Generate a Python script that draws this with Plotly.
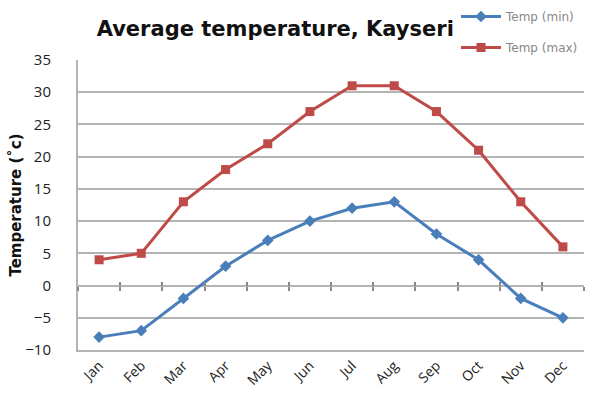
import plotly.graph_objects as go

months = ["Jan", "Feb", "Mar", "Apr", "May", "Jun", "Jul", "Aug", "Sep", "Oct", "Nov", "Dec"]
temp_min = [-8, -7, -2, 3, 7, 10, 12, 13, 8, 4, -2, -5]
temp_max = [4, 5, 13, 18, 22, 27, 31, 31, 27, 21, 13, 6]
y_ticks = [-10, -5, 0, 5, 10, 15, 20, 25, 30, 35]

BLUE = "#4a7ebb"
RED = "#be4b48"
GRID = "#b4b4b4"
y_lo, y_hi = -10, 35

fig = go.Figure()
fig.add_trace(go.Scatter(
    x=months, y=temp_min, name="Temp (min)", mode="lines+markers",
    line=dict(color=BLUE, width=3), marker=dict(symbol="diamond", size=9, color=BLUE),
    legendgroup="a"))
fig.add_trace(go.Scatter(
    x=months, y=temp_max, name="Temp (max)", mode="lines+markers",
    line=dict(color=RED, width=3), marker=dict(symbol="square", size=9, color=RED),
    legendgroup="b"))

# invisible traces to host the crossing tick marks on the zero line
zero_pos = (0 - y_lo) / (y_hi - y_lo)
for ax in ["x2", "x3"]:
    fig.add_trace(go.Scatter(x=months, y=[None] * len(months), xaxis=ax,
                             showlegend=False, hoverinfo="skip"))

fig.update_layout(
    width=592, height=405,
    margin=dict(l=78, r=8, t=60, b=55, autoexpand=False),
    plot_bgcolor="white", paper_bgcolor="white",
    title=dict(text="<b>Average temperature, Kayseri</b>", x=0.465, xanchor="center",
               y=0.93, yanchor="middle", automargin=False,
               font=dict(family="DejaVu Sans", size=21, color="#111111")),
    legend=dict(x=1.0, xanchor="right", y=1.2, yanchor="top",
                font=dict(family="DejaVu Sans", size=12, color="#888888"),
                tracegroupgap=12, traceorder="grouped", bgcolor="rgba(0,0,0,0)",
                itemwidth=40),
    xaxis=dict(type="category", range=[-0.5, 11.5], showgrid=False, automargin=False,
               showline=True, linecolor=GRID, linewidth=2, ticks="",
               tickangle=-45, tickfont=dict(family="Open Sans", size=14, color="#222222")),
    xaxis2=dict(type="category", range=[-0.5, 11.5], overlaying="x", anchor="free",
                position=zero_pos, showticklabels=False, ticks="outside", tickson="boundaries",
                ticklen=4, tickcolor="#888888", tickwidth=1.5, showgrid=False,
                showline=False, side="bottom", automargin=False),
    xaxis3=dict(type="category", range=[-0.5, 11.5], overlaying="x", anchor="free",
                position=zero_pos, showticklabels=False, ticks="inside", tickson="boundaries",
                ticklen=4, tickcolor="#888888", tickwidth=1.5, showgrid=False,
                showline=False, side="bottom", automargin=False),
    yaxis=dict(range=[y_lo, y_hi], tickvals=y_ticks, showgrid=True, gridcolor=GRID,
               gridwidth=1.5, showline=True, linecolor=GRID, linewidth=2,
               zeroline=False, ticks="", ticklabelstandoff=22, automargin=False,
               tickfont=dict(family="Open Sans", size=15, color="#222222"),
               title=dict(text="<b>Temperature (˚c)</b>", standoff=0,
                          font=dict(family="DejaVu Sans", size=15, color="#111111"))),
)

fig.write_html("out.html", config={"displayModeBar": False},
               post_script="document.body.style.margin='0';")
